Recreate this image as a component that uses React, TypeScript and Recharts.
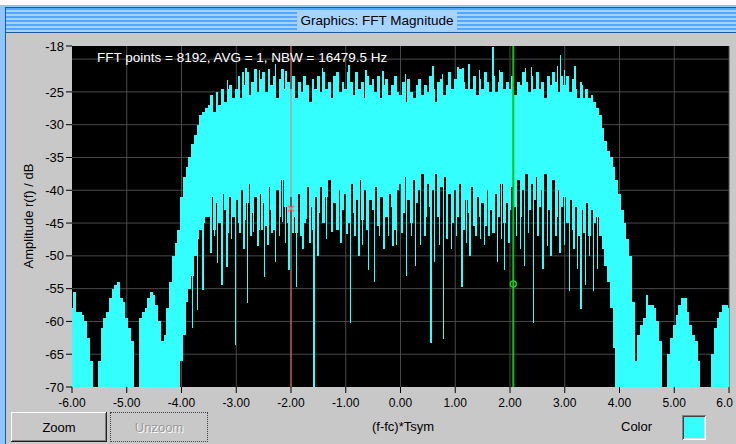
import React from "react";
import {
  ComposedChart,
  Area,
  Line,
  XAxis,
  YAxis,
  CartesianGrid,
  ReferenceLine,
  ReferenceDot,
} from "recharts";

const FONT = '"Liberation Sans", Arial, sans-serif';
const TRACE = "#33ffff";

// FFT bins every 0.05 symbol rates, from -6.00 to 6.00
const FREQ_START = -6;
const FREQ_STEP = 0.05;

// top of the dense trace (dB), one value per bin
const magHigh = [
  -58, -55.5, -58.5, -58.5, -59, -60, -62.5, -66, -70, -70,
  -66, -61, -59.5, -58.5, -56.5, -55, -54.5, -54, -56.5, -57,
  -59.5, -61, -63, -70, -70, -59.5, -58.5, -58, -56.5, -55.5,
  -56, -57.5, -60, -63, -62, -58, -54, -50, -48, -46,
  -41, -38, -36.5, -35, -33, -31.5, -30, -28.5, -28, -27.5,
  -27, -25.5, -28, -25, -27, -24.5, -26.5, -24.5, -24, -26,
  -24.5, -22.5, -26, -24, -22, -25.5, -23.5, -21.5, -25, -23,
  -22, -25, -21.5, -24, -22.5, -26, -23, -21.5, -24.5, -23.5,
  -24.5, -22.5, -26, -23.5, -25, -22.5, -24, -26.5, -23, -24.5,
  -22.5, -25, -22, -24.5, -23.5, -26, -22.5, -22, -25, -23.5,
  -24.5, -22, -23.5, -25.5, -22, -24.5, -23.5, -26, -22.5, -24,
  -23, -25, -22.5, -26, -24, -23, -25.5, -24, -22.5, -25,
  -25.5, -23.5, -26.5, -23, -25, -26, -24, -23, -25.5, -24,
  -25, -22.5, -24.5, -26.5, -23.5, -23, -25.5, -24, -22, -24.5,
  -23, -25, -21.5, -23.5, -24.5, -22, -24.5, -22.5, -25.5, -23,
  -24.5, -22, -23.5, -25, -22.5, -25, -23.5, -22, -24.5, -23.5,
  -24.5, -22.5, -25.5, -23.5, -24, -22, -23.5, -25, -22.5, -24.5,
  -22, -24.5, -23.5, -26, -22.5, -24, -22, -23.5, -25, -22.5,
  -24, -22.5, -25, -23, -24.5, -26, -24, -26, -24.5, -26,
  -25.5, -26.5, -27.5, -28.5, -30.5, -32.5, -34, -35, -36.5, -38.5,
  -40.5, -43, -45, -47.5, -50, -57, -66, -62, -60.5, -59.5,
  -56, -57.5, -57.5, -58, -60, -63, -70, -70, -65, -62.5,
  -60.5, -59, -57.5, -56.5, -56.5, -58.5, -60.5, -62, -63, -66,
  -70, -70, -70, -70, -65, -61, -59.5, -58.5, -57.5, -57.5,
  -58,
];

// bottom of the dense trace (dB), one value per bin
const magLow = [
  -70, -70, -70, -70, -70, -70, -70, -70, -70, -70,
  -70, -70, -70, -70, -70, -70, -70, -70, -70, -70,
  -70, -70, -70, -70, -70, -70, -70, -70, -70, -70,
  -70, -70, -70, -70, -70, -70, -70, -70, -70, -70,
  -66, -62, -57, -55, -53, -50, -47.5, -46, -45, -44,
  -44, -41, -46, -42, -45, -40.5, -43, -46.5, -41, -44,
  -41.5, -45, -40, -44.5, -42, -39, -43.5, -41, -46, -40.5,
  -42, -45.5, -39.5, -43, -46, -40, -44, -38.5, -42.5, -45,
  -41, -44, -46.5, -40.5, -43, -45, -39.5, -42.5, -46, -41,
  -43.5, -39.5, -45, -41, -38.5, -44, -42, -46, -40, -43,
  -40.5, -45, -39, -43.5, -41.5, -38.5, -44.5, -40, -46, -41.5,
  -43, -39.5, -45.5, -41, -38.5, -44, -40.5, -42.5, -46, -40,
  -39, -43.5, -38, -41.5, -45, -38.5, -42, -40, -37.5, -44,
  -39, -42.5, -40, -37.5, -44, -39.5, -38, -43, -40.5, -45,
  -40, -44, -39, -46, -41.5, -43.5, -39.5, -45.5, -41, -44,
  -42, -45.5, -40, -43, -46.5, -40.5, -44, -39, -45, -42,
  -43, -39.5, -42.5, -38.5, -44, -40, -37.5, -43, -39, -41.5,
  -38, -42.5, -40, -37.5, -43, -41, -38.5, -44, -40, -42.5,
  -41, -45, -41.5, -46, -42.5, -47, -43, -46.5, -42, -47,
  -43, -45, -44, -47, -49, -51.5, -54, -58, -64, -70,
  -70, -70, -70, -70, -70, -70, -70, -70, -70, -70,
  -70, -70, -70, -70, -70, -70, -70, -70, -70, -70,
  -70, -70, -70, -70, -70, -70, -70, -70, -70, -70,
  -70, -70, -70, -70, -70, -70, -70, -70, -70, -70,
  -70,
];

// single bins that drop below the dense trace
const dipFreq = [
  -3.8, -3.71, -3.61, -3.46, -3.4, -3.34, -3.26, -3.17, -3.09, -3.01,
  -2.93, -2.86, -2.79, -2.73, -2.68, -2.6, -2.53, -2.48, -2.42, -2.35,
  -2.28, -2.21, -2.15, -2.1, -2.04, -1.96, -1.9, -1.82, -1.78, -1.72,
  -1.65, -1.58, -1.51, -1.42, -1.35, -1.25, -1.17, -1.09, -0.98, -0.91,
  -0.83, -0.76, -0.69, -0.58, -0.48, -0.38, -0.3, -0.22, -0.14, -0.07,
  0.03, 0.115, 0.2, 0.27, 0.36, 0.45, 0.56, 0.62, 0.71, 0.78,
  0.85, 0.93, 1.02, 1.12, 1.2, 1.27, 1.38, 1.46, 1.53, 1.62,
  1.7, 1.77, 1.84, 1.9, 1.98, 2.12, 2.19, 2.26, 2.34, 2.43,
  2.51, 2.6, 2.68, 2.75, 2.84, 2.91, 2.99, 3.09, 3.17, 3.23,
  3.3, 3.38, 3.45, 3.53, 3.6,
];
const dipDb = [
  -61, -58.3, -55.2, -49.6, -47, -51.1, -54.5, -51.7, -47.5, -63.6,
  -46.5, -49, -57.2, -47, -46.4, -48.5, -46, -53.2, -48.4, -46.5,
  -51, -47, -44.9, -48, -52.2, -46.5, -54.7, -47, -49, -44.4,
  -48, -70, -50, -45, -47.5, -46.4, -44.5, -48, -46.7, -60.3,
  -47, -50, -48.4, -52.2, -54, -46.9, -49, -47, -48.5, -48.4,
  -46.5, -53, -47, -51.5, -48.4, -47, -63.3, -51, -48.4, -62.7,
  -47.4, -49, -47, -54.7, -48, -50, -46.9, -47.5, -48.4, -47,
  -46, -51, -47.5, -52.2, -48, -47, -49, -51.5, -46.5, -60.2,
  -47, -52, -48.5, -50, -47, -49.5, -48.4, -55.3, -49, -52,
  -58.1, -54.5, -50, -55.3, -52,
];

// single bins that rise above the dense trace
const peakFreq = [
  -3.16, -2.88, -2.82, -2.57, -2.39, -2.28, -2.09, -1.43, -1.17, -0.94,
  -0.63, -0.32, -0.08, 0.09, 0.59, 0.77, 1.05, 1.14, 1.25, 1.44,
  1.69, 1.81, 2.28, 2.39, 2.87, 2.92, 2.99, 3.19, 3.3,
];
const peakDb = [
  -23.2, -22, -21.3, -21.6, -21.8, -20.7, -21.8, -21.4, -22.2, -20.9,
  -21.6, -21.8, -22.5, -22.2, -21, -22.2, -21.2, -21.4, -20.7, -21.7,
  -18.2, -21.7, -21.4, -21.2, -21, -19.3, -21.7, -21, -23.5,
];

const xTicks = [-6, -5, -4, -3, -2, -1, 0, 1, 2, 3, 4, 5, 6];
const yTicks = [-70, -65, -60, -55, -50, -45, -40, -35, -30, -25, -18];
const gridDb = [-65, -60, -55, -50, -45, -40, -35, -30, -25, -20];
const gridFreq = [-5, -4, -3, -2, -1, 0, 1, 2, 3, 4, 5, 6];

const cursorRed = { f: -2.0, db: -42.8 };
const cursorGreen = { f: 2.06, db: -54.3 };

const DIP_BASE = -36;
const PEAK_BASE = -30;

const spectrum = magHigh.map((hi, i) => ({
  f: Number((FREQ_START + i * FREQ_STEP).toFixed(2)),
  band: [magLow[i], hi],
}));

const dipTrace = dipFreq.flatMap((f, i) => [
  { f, db: DIP_BASE },
  { f, db: dipDb[i] },
  { f, db: DIP_BASE },
]);

const peakTrace = peakFreq.flatMap((f, i) => [
  { f, db: PEAK_BASE },
  { f, db: peakDb[i] },
  { f, db: PEAK_BASE },
]);

const CrossMark = (props: any) => {
  const { cx, cy } = props;
  return (
    <g stroke="#ff7070" strokeWidth={1.5}>
      <line x1={cx - 3} y1={cy - 3} x2={cx + 3} y2={cy + 3} />
      <line x1={cx - 3} y1={cy + 3} x2={cx + 3} y2={cy - 3} />
    </g>
  );
};

const RingMark = (props: any) => {
  const { cx, cy } = props;
  return <circle cx={cx} cy={cy} r={3} fill="none" stroke="#22cc22" strokeWidth={1.5} />;
};

// the last label is cut by the window edge in the original, showing "6.0"
const FreqTick = (props: any) => {
  const { x, y, payload } = props;
  const last = payload.value === 6;
  return (
    <text
      x={last ? x + 4 : x}
      y={y}
      dy="0.71em"
      textAnchor={last ? "end" : "middle"}
      fill="#000"
      fontSize={12}
      fontFamily={FONT}
    >
      {last ? "6.0" : payload.value.toFixed(2)}
    </text>
  );
};

const button: React.CSSProperties = {
  position: "absolute",
  top: 412,
  height: 30,
  boxSizing: "border-box",
  display: "flex",
  alignItems: "center",
  justifyContent: "center",
  fontSize: 13,
  background: "#c8c8c8",
};

export default function App() {
  return (
    <div
      style={{
        position: "fixed",
        left: 0,
        top: 0,
        width: 736,
        height: 444,
        overflow: "hidden",
        background: "#ffffff",
        fontFamily: FONT,
      }}
    >
      {/* window frame */}
      <div style={{ position: "absolute", left: 0, top: 5, width: 736, height: 439, background: "#8ec6ff" }} />
      <div style={{ position: "absolute", left: 5, top: 7, width: 731, height: 437, background: "#1d5a9a" }} />
      <div
        style={{
          position: "absolute",
          left: 6,
          top: 8,
          width: 730,
          height: 24,
          background: "repeating-linear-gradient(to bottom, #52a8ff 0px, #52a8ff 2px, #a6d2ff 2px, #a6d2ff 4px)",
        }}
      />
      <div
        style={{
          position: "absolute",
          left: 297,
          top: 11,
          width: 160,
          height: 20,
          background: "#a6d3ff",
          fontSize: 13.5,
          lineHeight: "20px",
          textAlign: "center",
          color: "#000",
        }}
      >
        Graphics: FFT Magnitude
      </div>
      <div style={{ position: "absolute", left: 6, top: 33, width: 730, height: 411, background: "#c8c8c8" }} />

      <div style={{ position: "absolute", left: 0, top: 0 }}>
        <ComposedChart
          width={736}
          height={444}
          margin={{ top: 46, right: 7, bottom: 27, left: 0 }}
          style={{ fontFamily: FONT }}
        >
          <CartesianGrid
            fill="#000000"
            stroke="#4a4a4a"
            horizontalValues={gridDb}
            verticalValues={gridFreq}
          />
          <XAxis
            type="number"
            dataKey="f"
            domain={[-6, 6]}
            ticks={xTicks}
            interval={0}
            allowDataOverflow
            height={30}
            axisLine={false}
            tickSize={6}
            tickMargin={5}
            tickLine={{ stroke: "#000" }}
            tick={FreqTick}
          />
          <YAxis
            type="number"
            domain={[-70, -18]}
            ticks={yTicks}
            interval={0}
            allowDataOverflow
            width={72}
            axisLine={false}
            tickSize={6}
            tickMargin={2}
            tickLine={{ stroke: "#000" }}
            tick={{ fill: "#000", fontSize: 13 }}
          />
          <Area
            data={spectrum}
            dataKey="band"
            type="step"
            stroke="none"
            fill={TRACE}
            fillOpacity={1}
            isAnimationActive={false}
            shapeRendering="crispEdges"
          />
          <Line
            data={dipTrace}
            dataKey="db"
            type="linear"
            stroke={TRACE}
            strokeWidth={1.4}
            dot={false}
            activeDot={false}
            isAnimationActive={false}
            shapeRendering="crispEdges"
          />
          <Line
            data={peakTrace}
            dataKey="db"
            type="linear"
            stroke={TRACE}
            strokeWidth={1.4}
            dot={false}
            activeDot={false}
            isAnimationActive={false}
            shapeRendering="crispEdges"
          />
          <ReferenceLine x={cursorRed.f} stroke="#f07070" strokeWidth={1} />
          <ReferenceLine x={cursorGreen.f} stroke="#11c011" strokeWidth={2} />
          <ReferenceDot x={cursorRed.f} y={cursorRed.db} shape={CrossMark} />
          <ReferenceDot x={cursorGreen.f} y={cursorGreen.db} shape={RingMark} />
        </ComposedChart>
      </div>

      <div
        style={{
          position: "absolute",
          left: 97,
          top: 50,
          color: "#fff",
          fontSize: 13.5,
          lineHeight: "16px",
          whiteSpace: "nowrap",
        }}
      >
        FFT points = 8192, AVG = 1, NBW = 16479.5 Hz
      </div>

      <div
        style={{
          position: "absolute",
          left: 28,
          top: 216,
          transform: "translate(-50%, -50%) rotate(-90deg)",
          fontSize: 13,
          whiteSpace: "nowrap",
          color: "#000",
        }}
      >
        Amplitude r(f) / dB
      </div>

      {/* bottom controls */}
      <div
        style={{
          ...button,
          left: 11,
          width: 96,
          boxShadow: "inset -1px -1px #202020, inset 1px 1px #ffffff, inset -2px -2px #808080",
          color: "#000",
        }}
      >
        Zoom
      </div>
      <div
        style={{
          ...button,
          left: 110,
          width: 98,
          border: "1px dotted #404040",
          color: "#9a9a9a",
          textShadow: "1px 1px 0 #ffffff",
        }}
      >
        Unzoom
      </div>
      <div style={{ position: "absolute", left: 340, top: 419, width: 126, textAlign: "center", fontSize: 13, color: "#000" }}>
        (f-fc)*Tsym
      </div>
      <div style={{ position: "absolute", left: 621, top: 419, fontSize: 13, color: "#000" }}>Color</div>
      <div
        style={{
          position: "absolute",
          left: 682,
          top: 415,
          width: 24,
          height: 25,
          boxSizing: "border-box",
          background: TRACE,
          boxShadow: "inset 1px 1px #808080, inset -1px -1px #ffffff, inset 2px 2px #404040, inset -2px -2px #dcdcdc",
        }}
      />
    </div>
  );
}
